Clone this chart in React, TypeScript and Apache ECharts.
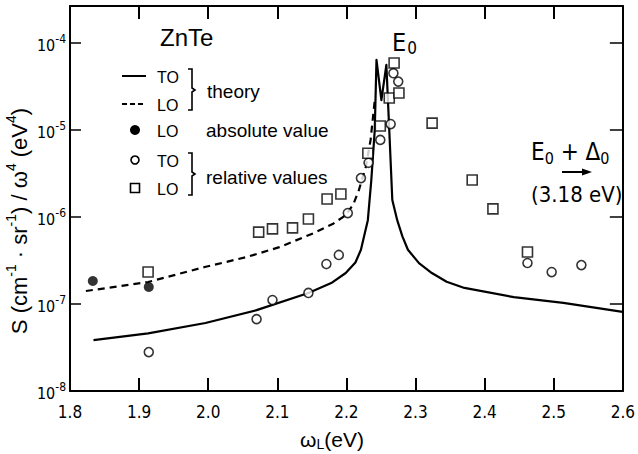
import React, { useEffect, useRef } from "react";
import * as echarts from "echarts";

// ---- data (photon energy in eV, S/ω^4 values) ----
const xTickValues = [1.8, 1.9, 2.0, 2.1, 2.2, 2.3, 2.4, 2.5, 2.6];
const yDecadeExponents = [-8, -7, -6, -5, -4];

const toTheoryX = [1.834, 1.913, 1.996, 2.07, 2.145, 2.178, 2.199, 2.213, 2.221, 2.231, 2.236, 2.241, 2.2435, 2.2506, 2.2578, 2.262, 2.2664, 2.2735, 2.281, 2.289, 2.305, 2.3236, 2.345, 2.3708, 2.4423, 2.5139, 2.5997];
const toTheoryY = [3.85e-8, 4.6e-8, 6.05e-8, 8.5e-8, 1.34e-7, 1.74e-7, 2.27e-7, 3.0e-7, 4.2e-7, 9.2e-7, 2.66e-6, 1.0e-5, 6.4e-5, 2.2e-5, 5.6e-5, 1.0e-5, 1.57e-6, 9.2e-7, 6.0e-7, 4.2e-7, 2.95e-7, 2.27e-7, 1.8e-7, 1.53e-7, 1.2e-7, 1.03e-7, 8.1e-8];

const loTheoryX = [1.823, 1.913, 1.995, 2.056, 2.103, 2.152, 2.18, 2.199, 2.21, 2.218, 2.228, 2.235, 2.241];
const loTheoryY = [1.41e-7, 1.79e-7, 2.66e-7, 3.47e-7, 4.5e-7, 6.5e-7, 8.3e-7, 1.05e-6, 1.4e-6, 2.04e-6, 3.76e-6, 7.7e-6, 2.2e-5];

const loAbsX = [1.833, 1.914];
const loAbsY = [1.84e-7, 1.57e-7];

const toRelX = [1.914, 2.07, 2.093, 2.145, 2.171, 2.189, 2.202, 2.221, 2.232, 2.249, 2.264, 2.268, 2.275, 2.462, 2.497, 2.54];
const toRelY = [2.8e-8, 6.7e-8, 1.11e-7, 1.34e-7, 2.88e-7, 3.66e-7, 1.11e-6, 2.8e-6, 4.2e-6, 7.7e-6, 1.17e-5, 4.5e-5, 3.6e-5, 2.96e-7, 2.33e-7, 2.8e-7];

const loRelX = [1.913, 2.073, 2.093, 2.122, 2.145, 2.172, 2.192, 2.231, 2.249, 2.262, 2.276, 2.269, 2.324, 2.382, 2.412, 2.462];
const loRelY = [2.33e-7, 6.7e-7, 7.3e-7, 7.5e-7, 9.5e-7, 1.61e-6, 1.84e-6, 5.4e-6, 1.11e-5, 2.33e-5, 2.66e-5, 5.9e-5, 1.2e-5, 2.66e-6, 1.24e-6, 3.96e-7];

const FONT = "'Liberation Sans Narrow', 'DejaVu Sans Condensed', 'Liberation Sans', sans-serif";
const FONT_W = "'Liberation Sans', 'DejaVu Sans', sans-serif";

const pts = (xs: number[], ys: number[]) => xs.map((x, i) => [x, Math.log10(ys[i])]);

export default function App() {
  const ref = useRef<HTMLDivElement>(null);
  useEffect(() => {
    if (!ref.current) return;
    const chart = echarts.init(ref.current, undefined, { renderer: "svg" });
    const axisLine = { show: true, lineStyle: { color: "#000", width: 2 } };
    const option: any = {
      animation: false,
      backgroundColor: "#fff",
      grid: { left: 70, right: 9, top: 6, bottom: 63 },
      xAxis: [
        {
          type: "value", min: 1.8, max: 2.6, interval: 0.1, position: "bottom",
          axisLine, splitLine: { show: false },
          axisTick: { show: true, inside: true, length: 13, lineStyle: { color: "#000", width: 2 } },
          axisLabel: {
            margin: 12, color: "#000", fontSize: 17, fontFamily: FONT,
            formatter: (v: number) => (xTickValues.some((t) => Math.abs(t - v) < 1e-6) ? v.toFixed(1) : ""),
          },
        },
        {
          type: "value", min: 1.8, max: 2.6, interval: 0.1, position: "top",
          axisLine, splitLine: { show: false },
          axisTick: { show: true, inside: true, length: 13, lineStyle: { color: "#000", width: 2 } },
          axisLabel: { show: false },
        },
      ],
      yAxis: [
        {
          type: "value", min: -8, max: -3.5747, interval: 1, position: "left",
          axisLine, splitLine: { show: false },
          axisTick: { show: true, inside: true, length: 11, lineStyle: { color: "#000", width: 1.5 } },
          axisLabel: {
            margin: 4, color: "#000", fontFamily: FONT,
            formatter: (v: number) => (yDecadeExponents.includes(Math.round(v)) && Math.abs(v - Math.round(v)) < 1e-6 ? `{b|10}{s|${Math.round(v)}}` : ""),
            rich: {
              b: { fontSize: 16, fontFamily: FONT, color: "#000", lineHeight: 20, verticalAlign: "bottom" },
              s: { fontSize: 12, fontFamily: FONT, color: "#000", lineHeight: 20, verticalAlign: "top", padding: [0, 0, 6, 0] },
            },
          },
        },
        {
          type: "value", min: -8, max: -3.5747, interval: 1, position: "right",
          axisLine, splitLine: { show: false },
          axisTick: { show: true, inside: true, length: 13, lineStyle: { color: "#000", width: 1.5 } },
          axisLabel: { show: false },
        },
      ],
      series: [
        {
          name: "TO theory", type: "line", data: pts(toTheoryX, toTheoryY), showSymbol: false, symbol: "none",
          smooth: false, lineStyle: { color: "#000", width: 2.2, join: "round" }, z: 2,
        },
        {
          name: "LO theory", type: "line", data: pts(loTheoryX, loTheoryY), showSymbol: false, symbol: "none",
          smooth: false, lineStyle: { color: "#000", width: 2.2, type: [7, 5] }, z: 2,
        },
        {
          name: "LO absolute", type: "scatter", data: pts(loAbsX, loAbsY), symbol: "circle", symbolSize: 10,
          itemStyle: { color: "#000" }, z: 4,
        },
        {
          name: "TO relative", type: "scatter", data: pts(toRelX, toRelY), symbol: "circle", symbolSize: 9,
          itemStyle: { color: "#fff", borderColor: "#000", borderWidth: 1.6 }, z: 4,
        },
        {
          name: "LO relative", type: "scatter", data: pts(loRelX, loRelY), symbol: "rect", symbolSize: 10,
          itemStyle: { color: "#fff", borderColor: "#000", borderWidth: 1.6 }, z: 5,
        },
      ],
      graphic: [
        // title
        { type: "text", x: 160, y: 37, style: { text: "ZnTe", font: `24px ${FONT_W}`, fill: "#000", textAlign: "left", verticalAlign: "middle", textVerticalAlign: "middle" } },
        // legend: theory lines
        { type: "line", shape: { x1: 122, y1: 76, x2: 146, y2: 76 }, style: { stroke: "#000", lineWidth: 2 } },
        { type: "text", x: 157, y: 77, style: { text: "TO", font: `16px ${FONT_W}`, fill: "#000", verticalAlign: "middle", textVerticalAlign: "middle" } },
        { type: "line", shape: { x1: 122, y1: 104, x2: 146, y2: 104 }, style: { stroke: "#000", lineWidth: 2, lineDash: [5, 3] } },
        { type: "text", x: 157, y: 105, style: { text: "LO", font: `16px ${FONT_W}`, fill: "#000", verticalAlign: "middle", textVerticalAlign: "middle" } },
        { type: "polyline", shape: { points: [[188, 69], [192, 69], [192, 88], [195, 90], [192, 92], [192, 110], [188, 110]] }, style: { stroke: "#000", lineWidth: 1.6, fill: null } },
        { type: "text", x: 207, y: 91, style: { text: "theory", font: `19px ${FONT_W}`, fill: "#000", verticalAlign: "middle", textVerticalAlign: "middle" } },
        // absolute
        { type: "circle", shape: { cx: 135, cy: 130, r: 5 }, style: { fill: "#000" } },
        { type: "text", x: 157, y: 131, style: { text: "LO", font: `16px ${FONT_W}`, fill: "#000", verticalAlign: "middle", textVerticalAlign: "middle" } },
        { type: "text", x: 206, y: 130, style: { text: "absolute value", font: `19px ${FONT_W}`, fill: "#000", verticalAlign: "middle", textVerticalAlign: "middle" } },
        // relative
        { type: "circle", shape: { cx: 135, cy: 160, r: 4 }, style: { fill: "#fff", stroke: "#000", lineWidth: 1.6 } },
        { type: "text", x: 157, y: 161, style: { text: "TO", font: `16px ${FONT_W}`, fill: "#000", verticalAlign: "middle", textVerticalAlign: "middle" } },
        { type: "rect", shape: { x: 130.5, y: 183.5, width: 9, height: 9 }, style: { fill: "#fff", stroke: "#000", lineWidth: 1.6 } },
        { type: "text", x: 157, y: 189, style: { text: "LO", font: `16px ${FONT_W}`, fill: "#000", verticalAlign: "middle", textVerticalAlign: "middle" } },
        { type: "polyline", shape: { points: [[188, 153], [192, 153], [192, 172], [195, 174], [192, 176], [192, 195], [188, 195]] }, style: { stroke: "#000", lineWidth: 1.6, fill: null } },
        { type: "text", x: 206, y: 177, style: { text: "relative values", font: `19px ${FONT_W}`, fill: "#000", verticalAlign: "middle", textVerticalAlign: "middle" } },
        // E0 label
        {
          type: "text", x: 392, y: 42,
          style: {
            text: "{m|E}{d|0}", verticalAlign: "middle", textVerticalAlign: "middle",
            rich: {
              m: { font: `25px ${FONT}`, fill: "#000", color: "#000", lineHeight: 28, verticalAlign: "middle" },
              d: { font: `17px ${FONT}`, fill: "#000", color: "#000", lineHeight: 28, verticalAlign: "bottom", padding: [0, 0, 0, 1] },
            },
          },
        },
        // E0 + Δ0
        {
          type: "text", x: 531, y: 152,
          style: {
            text: "{m|E}{d|0}{m| + Δ}{d|0}", verticalAlign: "middle", textVerticalAlign: "middle",
            rich: {
              m: { font: `24px ${FONT}`, fill: "#000", color: "#000", lineHeight: 28, verticalAlign: "middle" },
              d: { font: `16px ${FONT}`, fill: "#000", color: "#000", lineHeight: 28, verticalAlign: "bottom" },
            },
          },
        },
        { type: "line", shape: { x1: 562, y1: 172, x2: 584, y2: 172 }, style: { stroke: "#000", lineWidth: 2 } },
        { type: "polygon", shape: { points: [[582, 168.5], [592, 172], [582, 175.5]] }, style: { fill: "#000" } },
        { type: "text", x: 531, y: 194, style: { text: "(3.18 eV)", font: `22px ${FONT}`, fill: "#000", verticalAlign: "middle", textVerticalAlign: "middle" } },
        // y axis title
        {
          type: "text", x: 17, y: 221, rotation: Math.PI / 2,
          style: {
            text: "{m|S (cm}{s|-1}{m| · sr}{s|-1}{m|) / ω}{s|4}{m| (eV}{s|4}{m|)}", align: "center", textAlign: "center", verticalAlign: "middle", textVerticalAlign: "middle",
            rich: {
              m: { font: `22px ${FONT_W}`, fill: "#000", color: "#000", lineHeight: 26, verticalAlign: "bottom" },
              s: { font: `14px ${FONT_W}`, fill: "#000", color: "#000", lineHeight: 26, verticalAlign: "top" },
            },
          },
        },
        // x axis title
        {
          type: "text", x: 332, y: 439,
          style: {
            text: "{m|ω}{d|L}{m|(eV)}", align: "center", textAlign: "center", verticalAlign: "middle", textVerticalAlign: "middle",
            rich: {
              m: { font: `21px ${FONT_W}`, fill: "#000", color: "#000", lineHeight: 24, verticalAlign: "middle" },
              d: { font: `14px ${FONT_W}`, fill: "#000", color: "#000", lineHeight: 24, verticalAlign: "bottom" },
            },
          },
        },
      ],
    };
    chart.setOption(option);
    return () => chart.dispose();
  }, []);
  return <div ref={ref} style={{ width: 638, height: 454, position: "absolute", left: 0, top: 0, background: "#fff" }} />;
}
